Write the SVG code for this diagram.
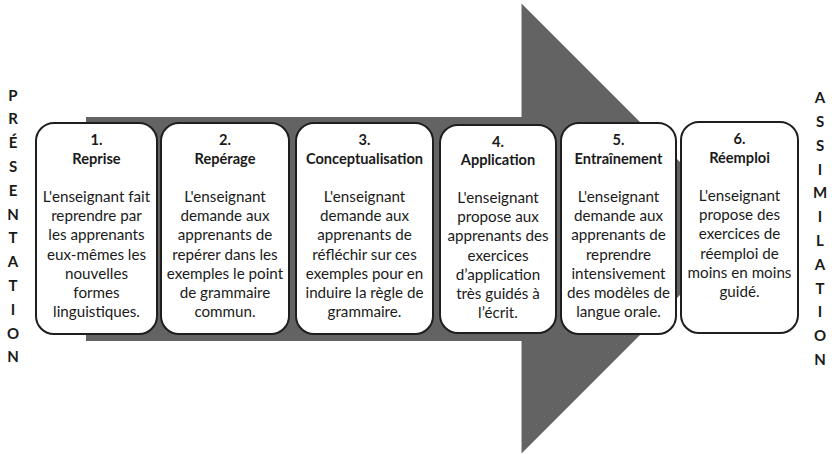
<svg xmlns="http://www.w3.org/2000/svg" width="832" height="454" viewBox="0 0 832 454">
  <style>
    .arrow { fill: #636363; }
    .edge { stroke: #b4b4b4; stroke-width: 1; fill: none; }
    .box { fill: #ffffff; stroke: #1e1e1e; stroke-width: 2; }
    text { font-family: Lato, "Open Sans", "Liberation Sans", sans-serif; fill: #1a1a1a; text-anchor: middle; }
    .num, .title { font-weight: bold; font-size: 14.6px; }
    .body { font-size: 15.2px; }
    .side { font-weight: bold; font-size: 15px; }
  </style>

  <!-- big background arrow -->
  <g id="connectors">
    <polygon class="arrow" points="86,117 522,117 522,4 746.5,228.5 522,453 522,341 86,341"/>
    <line class="edge" x1="521.5" y1="4" x2="521.5" y2="117"/>
    <line class="edge" x1="521.5" y1="341" x2="521.5" y2="453"/>
  </g>

  <!-- vertical side labels -->
  <g id="presentation">
    <text class="side" x="13" y="100.5">P</text>
    <text class="side" x="13" y="124.3">R</text>
    <text class="side" x="13" y="148.1">É</text>
    <text class="side" x="13" y="171.9">S</text>
    <text class="side" x="13" y="195.7">E</text>
    <text class="side" x="13" y="219.5">N</text>
    <text class="side" x="13" y="243.3">T</text>
    <text class="side" x="13" y="267.1">A</text>
    <text class="side" x="13" y="290.9">T</text>
    <text class="side" x="13" y="314.7">I</text>
    <text class="side" x="13" y="338.5">O</text>
    <text class="side" x="13" y="362.3">N</text>
  </g>
  <g id="assimilation">
    <text class="side" x="820" y="103.2">A</text>
    <text class="side" x="820" y="127">S</text>
    <text class="side" x="820" y="150.8">S</text>
    <text class="side" x="820" y="174.6">I</text>
    <text class="side" x="820" y="198.4">M</text>
    <text class="side" x="820" y="222.2">I</text>
    <text class="side" x="820" y="246">L</text>
    <text class="side" x="820" y="269.8">A</text>
    <text class="side" x="820" y="293.6">T</text>
    <text class="side" x="820" y="317.4">I</text>
    <text class="side" x="820" y="341.2">O</text>
    <text class="side" x="820" y="365">N</text>
  </g>

  <!-- step 1 -->
  <g id="step1">
    <rect class="box" x="36" y="123" width="121" height="211" rx="18" ry="18"/>
    <text class="num" x="96.5" y="145">1.</text>
    <text class="title" x="96.5" y="163.5">Reprise</text>
    <text class="body" x="96.5" y="202">L'enseignant fait</text>
    <text class="body" x="96.5" y="221.2">reprendre par</text>
    <text class="body" x="96.5" y="240.4">les apprenants</text>
    <text class="body" x="96.5" y="259.6">eux-mêmes les</text>
    <text class="body" x="96.5" y="278.8">nouvelles</text>
    <text class="body" x="96.5" y="298">formes</text>
    <text class="body" x="96.5" y="317.2">linguistiques.</text>
  </g>

  <!-- step 2 -->
  <g id="step2">
    <rect class="box" x="161" y="123" width="128" height="211" rx="18" ry="18"/>
    <text class="num" x="225" y="145">2.</text>
    <text class="title" x="225" y="163.5">Repérage</text>
    <text class="body" x="225" y="202">L'enseignant</text>
    <text class="body" x="225" y="221.2">demande aux</text>
    <text class="body" x="225" y="240.4">apprenants de</text>
    <text class="body" x="225" y="259.6">repérer dans les</text>
    <text class="body" x="225" y="278.8">exemples le point</text>
    <text class="body" x="225" y="298">de grammaire</text>
    <text class="body" x="225" y="317.2">commun.</text>
  </g>

  <!-- step 3 -->
  <g id="step3">
    <rect class="box" x="296" y="123" width="137" height="211" rx="18" ry="18"/>
    <text class="num" x="364.5" y="145">3.</text>
    <text class="title" x="364.5" y="164">Conceptualisation</text>
    <text class="body" x="364.5" y="202">L'enseignant</text>
    <text class="body" x="364.5" y="221.2">demande aux</text>
    <text class="body" x="364.5" y="240.4">apprenants de</text>
    <text class="body" x="364.5" y="259.6">réfléchir sur ces</text>
    <text class="body" x="364.5" y="278.8">exemples pour en</text>
    <text class="body" x="364.5" y="298">induire la règle de</text>
    <text class="body" x="364.5" y="317.2">grammaire.</text>
  </g>

  <!-- step 4 -->
  <g id="step4">
    <rect class="box" x="440" y="125" width="116" height="208" rx="18" ry="18"/>
    <text class="num" x="498" y="146.5">4.</text>
    <text class="title" x="498" y="165">Application</text>
    <text class="body" x="498" y="203">L'enseignant</text>
    <text class="body" x="498" y="222.2">propose aux</text>
    <text class="body" x="498" y="241.4">apprenants des</text>
    <text class="body" x="498" y="260.6">exercices</text>
    <text class="body" x="498" y="279.8">d’application</text>
    <text class="body" x="498" y="299">très guidés à</text>
    <text class="body" x="498" y="318.2">l’écrit.</text>
  </g>

  <!-- step 5 -->
  <g id="step5">
    <rect class="box" x="561" y="123" width="115" height="211" rx="18" ry="18"/>
    <text class="num" x="618.5" y="144.5">5.</text>
    <text class="title" x="618.5" y="163.5">Entraînement</text>
    <text class="body" x="618.5" y="202">L'enseignant</text>
    <text class="body" x="618.5" y="221.2">demande aux</text>
    <text class="body" x="618.5" y="240.4">apprenants de</text>
    <text class="body" x="618.5" y="259.6">reprendre</text>
    <text class="body" x="618.5" y="278.8">intensivement</text>
    <text class="body" x="618.5" y="298">des modèles de</text>
    <text class="body" x="618.5" y="317.2">langue orale.</text>
  </g>

  <!-- step 6 -->
  <g id="step6">
    <rect class="box" x="681" y="122" width="117" height="211" rx="18" ry="18"/>
    <text class="num" x="739.5" y="144">6.</text>
    <text class="title" x="739.5" y="162.5">Réemploi</text>
    <text class="body" x="739.5" y="201">L'enseignant</text>
    <text class="body" x="739.5" y="220.2">propose des</text>
    <text class="body" x="739.5" y="239.4">exercices de</text>
    <text class="body" x="739.5" y="258.6">réemploi de</text>
    <text class="body" x="739.5" y="277.8">moins en moins</text>
    <text class="body" x="739.5" y="297">guidé.</text>
  </g>
</svg>
